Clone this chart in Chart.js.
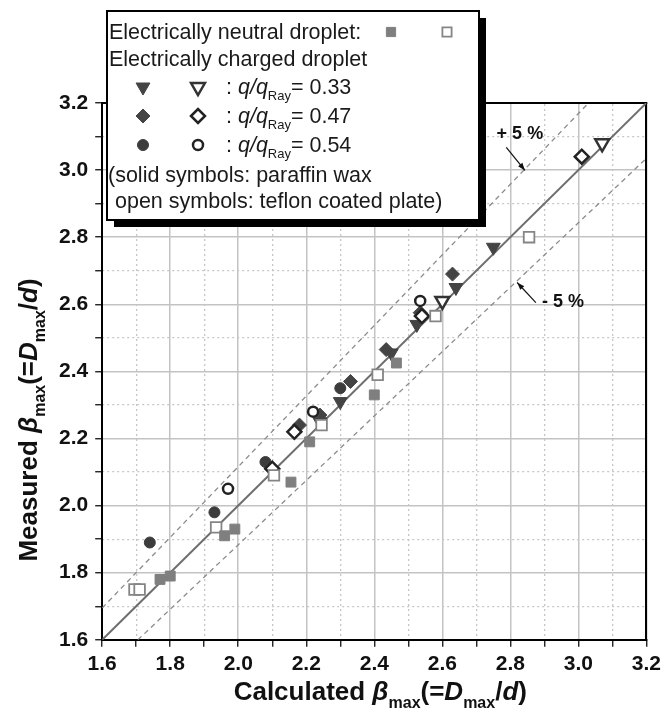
<!DOCTYPE html>
<html>
<head>
<meta charset="utf-8">
<script src="https://cdn.jsdelivr.net/npm/chart.js@4.4.1/dist/chart.umd.min.js"></script>
<style>
  html, body { margin: 0; padding: 0; background: #fff; }
</style>
</head>
<body>
<canvas id="chart" width="666" height="710"></canvas>
<script>
// values, [calculated, measured]
var neutralWax = [[1.77, 1.78], [1.80, 1.79], [1.96, 1.91], [1.99, 1.93], [2.155, 2.07], [2.21, 2.19], [2.40, 2.33], [2.465, 2.425]];
var neutralTeflon = [[1.695, 1.75], [1.71, 1.75], [1.935, 1.935], [2.105, 2.09], [2.245, 2.24], [2.41, 2.39], [2.58, 2.565], [2.855, 2.80]];
var q33Wax = [[2.24, 2.25], [2.30, 2.31], [2.45, 2.455], [2.525, 2.54], [2.64, 2.65], [2.75, 2.77]];
var q33Teflon = [[2.60, 2.61], [3.07, 3.08]];
var q47Wax = [[2.18, 2.24], [2.24, 2.27], [2.33, 2.37], [2.435, 2.465], [2.535, 2.575], [2.63, 2.69]];
var q47Teflon = [[2.10, 2.11], [2.165, 2.22], [2.54, 2.565], [3.01, 3.04]];
var q54Wax = [[1.74, 1.89], [1.93, 1.98], [2.08, 2.13], [2.30, 2.35]];
var q54Teflon = [[1.97, 2.05], [2.22, 2.28], [2.535, 2.61]];

// reference lines
var equalLine = [[1.6, 1.6], [3.2, 3.2]];
var plusLine = [[1.6, 1.695], [3.03, 3.2]];
var minusLine = [[1.705, 1.6], [3.2, 3.035]];

var axisMin = 1.6, axisMax = 3.2, minorStep = 0.1;

var FONT = '"Liberation Sans", Arial, sans-serif';

function pts(a) {
    return a.map(function (p) { return {x: p[0], y: p[1]}; });
}

function isMajor(v) {
    return Math.round(v * 10) % 2 === 0;
}

function majorLabel(v) {
    return isMajor(v) ? (Math.round(v * 10) / 10).toFixed(1) : '';
}

// text runs with italics and subscripts
function runWidth(ctx, parts, size, weight) {
    var w = 0;
    parts.forEach(function (p) {
        var s = p.sub ? Math.round(size * 0.6) : size;
        ctx.font = (p.it ? 'italic ' : '') + weight + ' ' + s + 'px ' + FONT;
        w += ctx.measureText(p.t).width;
    });
    return w;
}

function drawRun(ctx, parts, size, weight, x, y) {
    parts.forEach(function (p) {
        var s = p.sub ? Math.round(size * 0.6) : size;
        ctx.font = (p.it ? 'italic ' : '') + weight + ' ' + s + 'px ' + FONT;
        ctx.fillText(p.t, x, y + (p.sub ? size * 0.3 : 0));
        x += ctx.measureText(p.t).width;
    });
}

var xTitle = [{t: 'Calculated '}, {t: '\u03b2', it: true}, {t: 'max', sub: true}, {t: '(='}, {t: 'D', it: true}, {t: 'max', sub: true}, {t: '/'}, {t: 'd', it: true}, {t: ')'}];
var yTitle = [{t: 'Measured '}, {t: '\u03b2', it: true}, {t: 'max', sub: true}, {t: '(='}, {t: 'D', it: true}, {t: 'max', sub: true}, {t: '/'}, {t: 'd', it: true}, {t: ')'}];

var sty = {
    sqFill: {pointStyle: 'rect', radius: 7, rotation: 0, borderWidth: 1, fill: '#7f7f7f', stroke: '#7f7f7f'},
    sqOpen: {pointStyle: 'rect', radius: 7.5, rotation: 0, borderWidth: 1.8, fill: '#fff', stroke: '#858585'},
    triFill: {pointStyle: 'triangle', radius: 8, rotation: 180, borderWidth: 1, fill: '#444', stroke: '#444'},
    triOpen: {pointStyle: 'triangle', radius: 8, rotation: 180, borderWidth: 2.5, fill: '#fff', stroke: '#333'},
    diaFill: {pointStyle: 'rectRot', radius: 7, rotation: 0, borderWidth: 1, fill: '#444', stroke: '#444'},
    diaOpen: {pointStyle: 'rectRot', radius: 7, rotation: 0, borderWidth: 2.5, fill: '#fff', stroke: '#222'},
    cirFill: {pointStyle: 'circle', radius: 5.5, rotation: 0, borderWidth: 1, fill: '#3c3c3c', stroke: '#3c3c3c'},
    cirOpen: {pointStyle: 'circle', radius: 5, rotation: 0, borderWidth: 2.5, fill: '#fff', stroke: '#222'}
};

function pointSet(data, s) {
    return {
        data: pts(data),
        pointStyle: s.pointStyle,
        pointRadius: s.radius,
        pointRotation: s.rotation,
        pointBorderWidth: s.borderWidth,
        pointBackgroundColor: s.fill,
        pointBorderColor: s.stroke,
        order: 1
    };
}

function lineSet(data, color, width, dash) {
    return {
        data: pts(data),
        showLine: true,
        pointRadius: 0,
        borderColor: color,
        borderWidth: width,
        borderDash: dash,
        order: 5
    };
}

function drawMarker(ctx, s, x, y, r) {
    ctx.save();
    ctx.fillStyle = s.fill;
    ctx.strokeStyle = s.stroke;
    ctx.lineWidth = s.borderWidth;
    Chart.helpers.drawPoint(ctx, {pointStyle: s.pointStyle, rotation: s.rotation, radius: r || s.radius, borderWidth: s.borderWidth}, x, y);
    ctx.restore();
}

function arrow(ctx, x1, y1, x2, y2) {
    var a = Math.atan2(y2 - y1, x2 - x1);
    ctx.beginPath();
    ctx.moveTo(x1, y1);
    ctx.lineTo(x2, y2);
    ctx.stroke();
    ctx.beginPath();
    ctx.moveTo(x2, y2);
    ctx.lineTo(x2 - 8 * Math.cos(a - 0.35), y2 - 8 * Math.sin(a - 0.35));
    ctx.lineTo(x2 - 8 * Math.cos(a + 0.35), y2 - 8 * Math.sin(a + 0.35));
    ctx.closePath();
    ctx.fill();
}

var overlay = {
    id: 'overlay',
    afterDraw: function (chart) {
        var ctx = chart.ctx;
        var sx = chart.scales.x, sy = chart.scales.y;
        var px = function (v) { return sx.getPixelForValue(v); };
        var py = function (v) { return sy.getPixelForValue(v); };

        ctx.save();
        ctx.fillStyle = '#111';
        ctx.strokeStyle = '#111';
        ctx.lineWidth = 1.2;
        ctx.textBaseline = 'middle';
        ctx.textAlign = 'center';

        // +5 % / -5 % notes
        ctx.font = 'bold 18px ' + FONT;
        ctx.fillText('+ 5 %', px(2.828), py(3.107));
        arrow(ctx, px(2.788), py(3.068), px(2.843), py(2.999));
        ctx.fillText('- 5 %', px(2.955), py(2.608));
        arrow(ctx, px(2.875), py(2.605), px(2.82), py(2.665));

        // axis titles
        ctx.textAlign = 'left';
        ctx.textBaseline = 'alphabetic';
        var w = runWidth(ctx, xTitle, 26, 'bold');
        drawRun(ctx, xTitle, 26, 'bold', (chart.chartArea.left + chart.chartArea.right) / 2 - w / 2 + 6, 700);

        ctx.save();
        ctx.translate(37, 420);
        ctx.rotate(-Math.PI / 2);
        w = runWidth(ctx, yTitle, 26, 'bold');
        drawRun(ctx, yTitle, 26, 'bold', -w / 2, 0);
        ctx.restore();

        // legend box with heavy shadow
        var bx = 107, by = 11, bw = 372, bh = 209;
        ctx.fillStyle = '#000';
        ctx.fillRect(bx + 7, by + 7, bw, bh);
        ctx.fillStyle = '#fff';
        ctx.fillRect(bx, by, bw, bh);
        ctx.strokeStyle = '#000';
        ctx.lineWidth = 2;
        ctx.strokeRect(bx, by, bw, bh);

        ctx.fillStyle = '#1a1a1a';
        ctx.font = '21.5px ' + FONT;
        ctx.fillText('Electrically neutral droplet:', 109, 39);
        ctx.fillText('Electrically charged droplet', 109, 66);
        ctx.fillText('(solid symbols: paraffin wax', 108, 182);
        ctx.fillText(' open symbols: teflon coated plate)', 109, 208);

        drawMarker(ctx, sty.sqFill, 391, 32, 6.5);
        drawMarker(ctx, sty.sqOpen, 447, 32, 6.5);

        var rows = [
            {y: 87, f: sty.triFill, o: sty.triOpen, v: '0.33'},
            {y: 116, f: sty.diaFill, o: sty.diaOpen, v: '0.47'},
            {y: 145, f: sty.cirFill, o: sty.cirOpen, v: '0.54'}
        ];
        rows.forEach(function (r) {
            drawMarker(ctx, r.f, 143, r.y);
            drawMarker(ctx, r.o, 198, r.y);
            ctx.fillStyle = '#1a1a1a';
            drawRun(ctx, [{t: ': '}, {t: 'q/q', it: true}, {t: 'Ray', sub: true}, {t: '= ' + r.v}], 21.5, 'normal', 226, r.y + 7);
        });
        ctx.restore();
    }
};

var tickFont = {family: FONT, size: 21, weight: 'bold'};

function mainAxis(pos) {
    return {
        type: 'linear',
        position: pos,
        min: axisMin,
        max: axisMax,
        ticks: {
            stepSize: minorStep,
            autoSkip: false,
            maxRotation: 0,
            padding: pos === 'left' ? 7 : 5,
            color: '#111',
            font: tickFont,
            callback: majorLabel
        },
        grid: {
            color: function (c) { return c.tick && isMajor(c.tick.value) ? '#c3c3c3' : 'rgba(0,0,0,0)'; },
            lineWidth: 1.5,
            tickColor: '#111',
            tickLength: 7,
            tickWidth: 1.3
        },
        border: {color: '#000', width: 2}
    };
}

function minorAxis(pos) {
    return {
        type: 'linear',
        position: pos,
        min: axisMin,
        max: axisMax,
        ticks: {display: false, stepSize: minorStep, autoSkip: false},
        grid: {
            color: function (c) { return c.tick && !isMajor(c.tick.value) ? '#c6c6c6' : 'rgba(0,0,0,0)'; },
            lineWidth: 1.3,
            drawTicks: false
        },
        border: {color: '#000', width: 2, dash: [2, 3]}
    };
}

new Chart(document.getElementById('chart'), {
    type: 'scatter',
    data: {
        datasets: [
            pointSet(neutralWax, sty.sqFill),
            pointSet(neutralTeflon, sty.sqOpen),
            pointSet(q47Teflon, sty.diaOpen),
            pointSet(q54Teflon, sty.cirOpen),
            pointSet(q33Teflon, sty.triOpen),
            pointSet(q54Wax, sty.cirFill),
            pointSet(q47Wax, sty.diaFill),
            pointSet(q33Wax, sty.triFill),
            lineSet(equalLine, '#6e6e6e', 2, []),
            lineSet(plusLine, '#8c8c8c', 1.3, [5, 4]),
            lineSet(minusLine, '#8c8c8c', 1.3, [5, 4])
        ]
    },
    options: {
        responsive: false,
        animation: false,
        devicePixelRatio: 1,
        layout: {padding: {left: 52, right: 0, top: 103, bottom: 28}},
        plugins: {legend: {display: false}, tooltip: {enabled: false}},
        scales: {
            x: mainAxis('bottom'),
            x2: minorAxis('top'),
            y: mainAxis('left'),
            y2: minorAxis('right')
        }
    },
    plugins: [overlay]
});
</script>
</body>
</html>
